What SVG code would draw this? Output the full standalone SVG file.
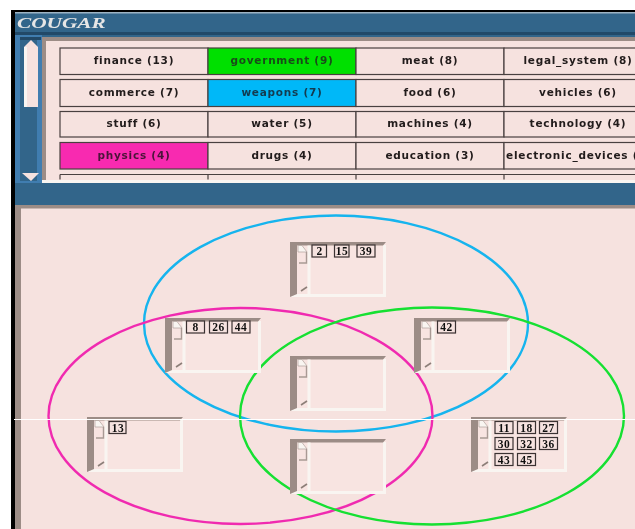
<svg xmlns="http://www.w3.org/2000/svg" width="635" height="529" viewBox="0 0 635 529">
<style>
.cell{stroke:#4a4040;stroke-width:1.2;fill:#f6e2df}
.lab{font-family:"DejaVu Sans",sans-serif;font-weight:bold;font-size:10.5px;text-anchor:middle;fill:#201a1a;letter-spacing:.75px}
.ring{fill:none;stroke-width:2.4}
.shade{fill:#9c8c86}
.lite{fill:#f9f5f1}
.tag{fill:#f6e2df;stroke:#3a3030;stroke-width:1.2}
.num{font-family:"Liberation Serif",serif;font-weight:bold;font-size:11.5px;text-anchor:middle;fill:#111;letter-spacing:.4px}
</style>
<defs>
<filter id="soft" x="0" y="0" width="100%" height="100%"><feGaussianBlur stdDeviation="0.4"/></filter>
<g id="win">
<rect x="0" y="0" width="96" height="55" fill="#f8e4e1"/>
<path class="lite" d="M93 3H96V55H0L7 52H93Z"/>
<path class="shade" d="M0 0H96L93 3.500H7V52L0 55Z"/>
<rect x="17.500" y="3.500" width="3" height="48.500" fill="#f9f5f1"/>
<path d="M8 10V3.500H12L17 10Z" fill="#f9f5f1" stroke="#b0a29c" stroke-width=".7"/>
<path d="M9 21H16.500V10" fill="none" stroke="#a89a94" stroke-width="1.400"/>
<path d="M11 49L17 45" stroke="#8c7e78" stroke-width="1.600"/>
</g>
</defs>
<rect width="635" height="529" fill="#fff"/>
<g filter="url(#soft)">
<rect x="11" y="10" width="624" height="519" fill="#000"/>
<rect x="15" y="13" width="620" height="516" fill="#33658a"/>
<rect x="15" y="12" width="620" height="1.500" fill="#9db4c4"/>
<rect x="15" y="32" width="620" height="3" fill="#234a68"/>
<text transform="translate(17,28) scale(1.42,1)" font-family="Liberation Serif,serif" font-weight="bold" font-style="italic" font-size="15" fill="#e6e6e6">COUGAR</text>
<g id="scrollbar">
<rect x="15" y="35" width="27" height="148" fill="#3f7db0"/>
<rect x="20" y="37" width="17" height="144" fill="#33658a"/>
<rect x="20" y="37" width="21" height="3" fill="#234a68"/>
<rect x="24" y="47" width="14" height="60" fill="#f6e2df"/>
<rect x="24" y="47" width="3" height="60" fill="#f9f5f1"/>
<path d="M24 47L31 40L38 47Z" fill="#f6e2df"/>
<path d="M22 173L39 173L31 181Z" fill="#f6e2df"/>
</g>
<rect x="42" y="37" width="593" height="144" fill="#9c8c86"/>
<rect x="46" y="41" width="589" height="139" fill="#f6e2df"/>
<rect x="42" y="180" width="593" height="3" fill="#f9f5f1"/>
<rect x="15" y="183" width="620" height="22" fill="#33658a"/>
<rect x="15" y="205" width="620" height="324" fill="#f6e2df"/>
<rect x="15" y="205" width="6" height="324" fill="#9c8c86"/>
<rect x="15" y="205" width="620" height="3.500" fill="#9c8c86"/>

<g id="topics">
<g id="row1">
<rect class="cell" x="60" y="48" width="148" height="26.500"/><text class="lab" x="134" y="64">finance (13)</text>
<rect class="cell" x="208" y="48" width="148" height="26.500" style="fill:#00e000"/><text class="lab" x="282" y="64" style="fill:#1a4a1a">government (9)</text>
<rect class="cell" x="356" y="48" width="148" height="26.500"/><text class="lab" x="430" y="64">meat (8)</text>
<rect class="cell" x="504" y="48" width="148" height="26.500"/><text class="lab" x="578" y="64">legal_system (8)</text>
</g>
<g id="row2">
<rect class="cell" x="60" y="79.500" width="148" height="27"/><text class="lab" x="134" y="96">commerce (7)</text>
<rect class="cell" x="208" y="79.500" width="148" height="27" style="fill:#00b8f8"/><text class="lab" x="282" y="96" style="fill:#123a50">weapons (7)</text>
<rect class="cell" x="356" y="79.500" width="148" height="27"/><text class="lab" x="430" y="96">food (6)</text>
<rect class="cell" x="504" y="79.500" width="148" height="27"/><text class="lab" x="578" y="96">vehicles (6)</text>
</g>
<g id="row3">
<rect class="cell" x="60" y="111.500" width="148" height="25.500"/><text class="lab" x="134" y="127">stuff (6)</text>
<rect class="cell" x="208" y="111.500" width="148" height="25.500"/><text class="lab" x="282" y="127">water (5)</text>
<rect class="cell" x="356" y="111.500" width="148" height="25.500"/><text class="lab" x="430" y="127">machines (4)</text>
<rect class="cell" x="504" y="111.500" width="148" height="25.500"/><text class="lab" x="578" y="127">technology (4)</text>
</g>
<g id="row4">
<rect class="cell" x="60" y="142.500" width="148" height="26.500" style="fill:#f82cb0"/><text class="lab" x="134" y="159" style="fill:#4a1238">physics (4)</text>
<rect class="cell" x="208" y="142.500" width="148" height="26.500"/><text class="lab" x="282" y="159">drugs (4)</text>
<rect class="cell" x="356" y="142.500" width="148" height="26.500"/><text class="lab" x="430" y="159">education (3)</text>
<rect class="cell" x="504" y="142.500" width="148" height="26.500"/><text class="lab" x="579" y="159">electronic_devices (3)</text>
</g>
<path d="M60 174.500H635M60 174.500V179.500M208 174.500V179.500M356 174.500V179.500M504 174.500V179.500" stroke="#4a4040" stroke-width="1.200" fill="none"/>
</g>

<g id="connectors">
<ellipse class="ring" cx="336" cy="323.500" rx="192" ry="108" stroke="#14b4ee"/>
<ellipse class="ring" cx="240.500" cy="416" rx="192" ry="108" stroke="#f02cb0"/>
<ellipse class="ring" cx="432" cy="416" rx="192" ry="108.500" stroke="#14e030"/>
</g>

<g id="box-blue"><use href="#win" x="290" y="242"/>
<rect class="tag" x="312" y="245" width="14.500" height="12"/><text class="num" x="319.500" y="255">2</text>
<rect class="tag" x="334.500" y="245" width="14.500" height="12"/><text class="num" x="342" y="255">15</text>
<rect class="tag" x="357" y="245" width="18" height="12"/><text class="num" x="366" y="255">39</text></g>
<g id="box-blue-pink"><use href="#win" x="165" y="318"/>
<rect class="tag" x="186.500" y="321" width="18" height="12"/><text class="num" x="195.500" y="331">8</text>
<rect class="tag" x="209.500" y="321" width="18" height="12"/><text class="num" x="218.500" y="331">26</text>
<rect class="tag" x="232" y="321" width="18" height="12"/><text class="num" x="241" y="331">44</text></g>
<g id="box-blue-green"><use href="#win" x="414" y="318"/>
<rect class="tag" x="437.500" y="321" width="18" height="12"/><text class="num" x="446.500" y="331">42</text></g>
<g id="box-all"><use href="#win" x="290" y="356"/></g>
<g id="box-pink-green"><use href="#win" x="290" y="439"/></g>
<g id="box-pink"><use href="#win" x="87" y="417"/>
<rect class="tag" x="109" y="421.500" width="17" height="12"/><text class="num" x="118" y="431.500">13</text></g>
<g id="box-green"><use href="#win" x="471" y="417"/>
<rect class="tag" x="495" y="421.500" width="18" height="12"/><text class="num" x="504" y="431.500">11</text>
<rect class="tag" x="517.500" y="421.500" width="18" height="12"/><text class="num" x="526.500" y="431.500">18</text>
<rect class="tag" x="539.500" y="421.500" width="18" height="12"/><text class="num" x="548.500" y="431.500">27</text>
<rect class="tag" x="495" y="437.500" width="18" height="12"/><text class="num" x="504" y="447.500">30</text>
<rect class="tag" x="517.500" y="437.500" width="18" height="12"/><text class="num" x="526.500" y="447.500">32</text>
<rect class="tag" x="539.500" y="437.500" width="18" height="12"/><text class="num" x="548.500" y="447.500">36</text>
<rect class="tag" x="495" y="453.500" width="18" height="12"/><text class="num" x="504" y="463.500">43</text>
<rect class="tag" x="517.500" y="453.500" width="18" height="12"/><text class="num" x="526.500" y="463.500">45</text></g>
</g>
<rect x="14" y="419" width="621" height="1" fill="#fff"/>
</svg>
